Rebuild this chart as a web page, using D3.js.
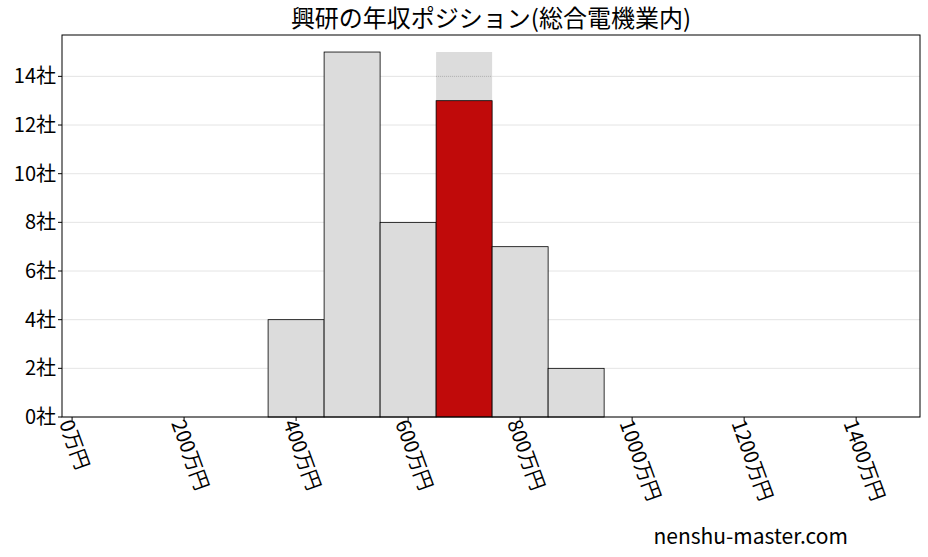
<!DOCTYPE html><html><head><meta charset="utf-8"><script src="https://cdn.jsdelivr.net/npm/d3@7"></script>
<style>body{margin:0;background:#fff}text{font-family:"Noto Sans CJK JP",sans-serif}</style></head><body><svg id="c" width="928" height="557"></svg>
<script>
const binStarts=[350,450,550,650,750,850];
const counts=[4,15,8,13,7,2];
const highlightIndex=3;
const highlightBackground=15;
const xTicks=[0,200,400,600,800,1000,1200,1400];
const yTicks=[0,2,4,6,8,10,12,14];
const title="興研の年収ポジション(総合電機業内)";
const svg=d3.select("#c");
const L=62,R=920,T=35,B=417;
const x=d3.scaleLinear().domain([-18,1514]).range([L,R]);
const y=d3.scaleLinear().domain([0,15.7]).range([B,T]);
const g=svg.append("g");
yTicks.forEach(t=>g.append("line").attr("x1",L).attr("x2",R).attr("y1",y(t)).attr("y2",y(t)).attr("stroke","#ddd").attr("stroke-width",0.8));
g.append("rect").attr("x",x(binStarts[highlightIndex])).attr("width",x(100)-x(0)).attr("y",y(highlightBackground)).attr("height",B-y(highlightBackground)).attr("fill","#dcdcdc");
g.append("line").attr("x1",x(binStarts[highlightIndex])).attr("x2",x(binStarts[highlightIndex]+100)).attr("y1",y(14)).attr("y2",y(14)).attr("stroke","#999").attr("stroke-dasharray","1,1").attr("stroke-width",0.7);
binStarts.forEach((s,i)=>g.append("rect").attr("x",x(s)).attr("width",x(100)-x(0)).attr("y",y(counts[i])).attr("height",B-y(counts[i])).attr("fill",i===highlightIndex?"#c00a0a":"#dcdcdc").attr("stroke","#000").attr("stroke-width",0.8));
g.append("rect").attr("x",L).attr("y",T).attr("width",R-L).attr("height",B-T).attr("fill","none").attr("stroke","#000");
yTicks.forEach(t=>{g.append("line").attr("x1",L-4).attr("x2",L).attr("y1",y(t)).attr("y2",y(t)).attr("stroke","#000");
g.append("text").attr("x",L-6).attr("y",y(t)).attr("dy","0.35em").attr("text-anchor","end").attr("font-size",20).text(t+"社");});
xTicks.forEach(t=>{g.append("line").attr("x1",x(t)).attr("x2",x(t)).attr("y1",B).attr("y2",B+4).attr("stroke","#000");
g.append("text").attr("transform",`translate(${x(t)-13},${B+6}) rotate(70)`).attr("font-size",20).text(t+"万円");});
svg.append("text").attr("x",(L+R)/2).attr("y",27).attr("text-anchor","middle").attr("font-size",24).text(title);
svg.append("text").attr("x",848).attr("y",544).attr("text-anchor","end").attr("font-size",21).text("nenshu-master.com");
</script></body></html>
